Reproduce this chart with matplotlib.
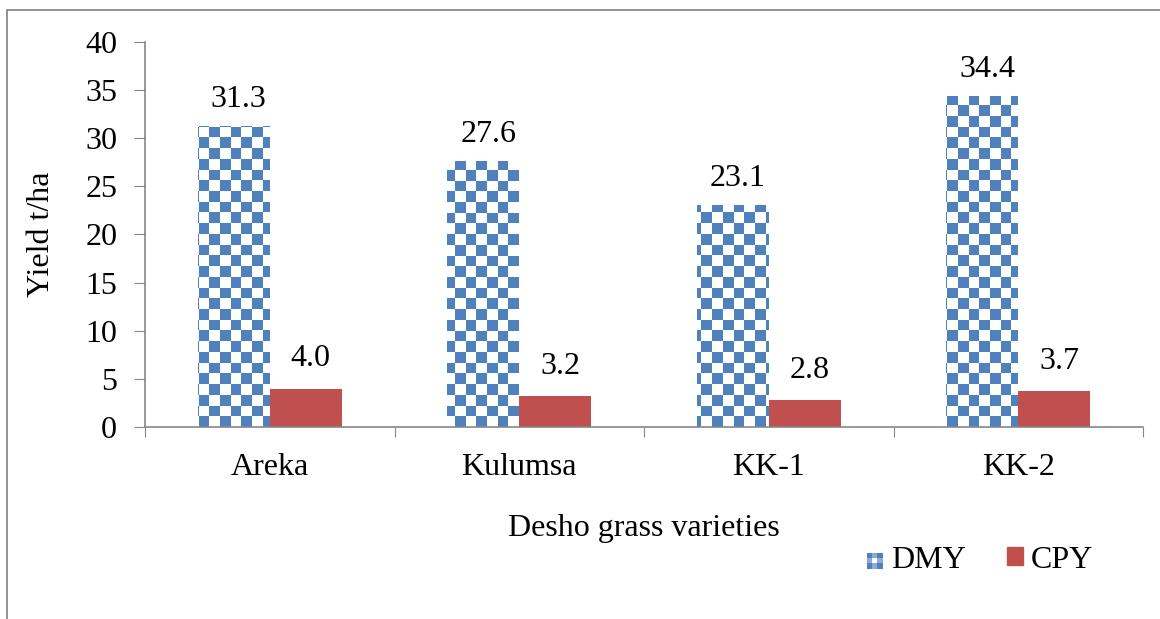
import numpy as np
import matplotlib
matplotlib.use("Agg")
import matplotlib.pyplot as plt
from matplotlib.patches import Rectangle, Patch
from matplotlib.legend_handler import HandlerBase

# data
varieties = ["Areka", "Kulumsa", "KK-1", "KK-2"]
dmy = [31.3, 27.6, 23.1, 34.4]
cpy = [4.0, 3.2, 2.8, 3.7]

blue = "#4F81BD"
red = "#C0504D"
fs = 23

plt.rcParams["font.family"] = ["Liberation Serif", "DejaVu Serif"]
plt.rcParams["font.size"] = fs


class CheckerHandler(HandlerBase):
    # small checker square for the DMY legend key
    def create_artists(self, legend, orig_handle, xd, yd, width, height, fontsize, trans):
        s = min(width, height)
        x0 = xd + (width - s) / 2
        y0 = yd + (height - s) / 2
        c = s / 3
        shades = [[blue, "#8DAAD6", blue], ["#8DAAD6", "white", "#8DAAD6"], [blue, "#8DAAD6", blue]]
        arts = []
        for i in range(3):
            for j in range(3):
                arts.append(Rectangle((x0 + j * c, y0 + i * c), c, c,
                                      facecolor=shades[i][j], edgecolor="none",
                                      transform=trans))
        return arts


fig = plt.figure(figsize=(11.6, 6.19), dpi=100)
ax = fig.add_axes([145 / 1160, 1 - 427 / 619, 998 / 1160, 385 / 619])

# outer frame of the figure
fig.patches.append(Rectangle((7 / 1160, -0.05), 1.2, 1 - 10 / 619 + 0.05,
                             transform=fig.transFigure, fill=False,
                             edgecolor="#808080", lw=1.2))

x = np.arange(len(varieties))
w = 0.288
bars_d = ax.bar(x - w / 2, dmy, w, color="white", edgecolor="none")
bars_c = ax.bar(x + w / 2, cpy, w, color=red, edgecolor="none")

ax.set_xlim(-0.5, 3.5)
ax.set_ylim(0, 40)

# checkerboard fill for DMY bars, clipped to each bar
cell = 10.7
nx = int(998 / cell) + 1
ny = int(385 / cell) + 1
board = (np.add.outer(np.arange(ny), np.arange(nx)) % 2).astype(float)
cmap = matplotlib.colors.ListedColormap(["white", blue])
for b in bars_d:
    im = ax.imshow(board, cmap=cmap, extent=(-0.5, -0.5 + nx * cell / 998 * 4,
                                             0, ny * cell / 385 * 40),
                   origin="lower", aspect="auto", interpolation="nearest", zorder=2)
    im.set_clip_path(b)
ax.set_xlim(-0.5, 3.5)
ax.set_ylim(0, 40)

for b, v in zip(bars_d, dmy):
    ax.text(b.get_x() + b.get_width() / 2 + 0.02, v + 2.75, f"{v:.1f}",
            ha="center", va="center", fontsize=fs)
for b, v in zip(bars_c, cpy):
    ax.text(b.get_x() + b.get_width() / 2 + 0.02, v + 3.1, f"{v:.1f}",
            ha="center", va="center", fontsize=fs)

for s in ["top", "right"]:
    ax.spines[s].set_visible(False)
for s in ["left", "bottom"]:
    ax.spines[s].set_color("#868686")
    ax.spines[s].set_linewidth(1.2)

ax.set_yticks(np.arange(0, 41, 5))
ax.tick_params(axis="y", length=8, color="#868686", pad=12, labelsize=fs)
ax.set_xticks(np.arange(-0.5, 3.6, 1))
ax.set_xticklabels([])
ax.tick_params(axis="x", length=7, color="#868686")
for i, name in enumerate(varieties):
    ax.text(i, -4.2, name, ha="center", va="center", fontsize=fs)

ax.text(1.5, -10.5, "Desho grass varieties", ha="center", va="center", fontsize=fs)
ax.set_ylabel("Yield t/ha", fontsize=fs)
ax.yaxis.set_label_coords(-89 / 998, 0.5)

handles = [Patch(facecolor=blue, label="DMY"),
           Patch(facecolor=red, edgecolor=red, label="CPY")]
fig.legend(handles=handles, loc="center", bbox_to_anchor=(980 / 1160, 1 - 560 / 619),
           ncol=2, frameon=False, fontsize=fs, handlelength=0.5, handleheight=0.5,
           columnspacing=1.3, handletextpad=0.25,
           handler_map={handles[0]: CheckerHandler()})

fig.savefig("out.png", dpi=100)
